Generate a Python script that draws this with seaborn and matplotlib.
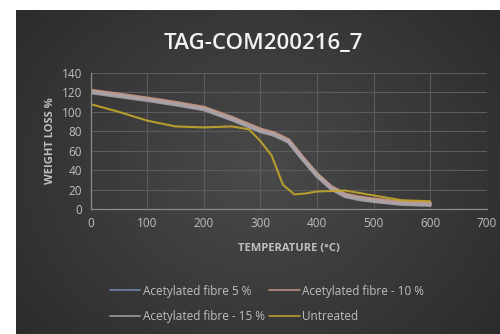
import numpy as np
import pandas as pd
import matplotlib
matplotlib.use("Agg")
import matplotlib.pyplot as plt
import seaborn as sns

# ---- data ----
temp_acet = [0, 50, 100, 150, 200, 250, 300, 325, 350, 375, 400, 425, 450, 475, 500, 550, 600]
acet_5 = [121, 117, 113, 108.5, 103.5, 93, 81, 77, 70, 52, 35, 22, 14, 11, 9, 6, 5]
acet_10 = [122, 118, 114, 109.5, 104.5, 94, 82, 78, 71, 53, 36, 23, 15, 12, 10, 7, 6]
acet_15 = [120, 116, 112, 107.5, 102.5, 92, 80, 76, 69, 51, 34, 21, 13, 10, 8, 5, 4]
temp_untr = [0, 50, 100, 150, 200, 250, 280, 300, 320, 340, 360, 380, 400, 450, 500, 550, 600]
untreated = [108, 100, 91, 85, 84, 85, 82, 70, 55, 25, 15, 16, 18, 19, 14, 9, 8]

series_names = ["Acetylated fibre 5 %", "Acetylated fibre - 10 %",
                "Acetylated fibre - 15 %", "Untreated"]
colors = ["#6f8fb0", "#c89a86", "#a9a3aa", "#c4a62c"]
xticks = [0, 100, 200, 300, 400, 500, 600, 700]
yticks = [0, 20, 40, 60, 80, 100, 120, 140]

frames = []
for name, xs, ys in zip(series_names,
                        [temp_acet, temp_acet, temp_acet, temp_untr],
                        [acet_5, acet_10, acet_15, untreated]):
    frames.append(pd.DataFrame({"Temperature": xs, "Weight": ys, "Series": name}))
df = pd.concat(frames, ignore_index=True)

sns.set_style("dark")
plt.rcParams["font.family"] = ["Open Sans", "DejaVu Sans"]

fig = plt.figure(figsize=(5, 3.34), dpi=100, facecolor="white")

# dark gradient background panel
bg = fig.add_axes([16 / 500, 0, 484 / 500, 1 - 10 / 334])
yy, xx = np.mgrid[-1:1:200j, -1:1:300j]
r = np.sqrt((xx * 1.0) ** 2 + (yy * 0.8) ** 2)
img = 0.29 - 0.13 * np.clip(r, 0, 1.4) / 1.4
bg.imshow(np.dstack([img, img, img]), aspect="auto", extent=[0, 1, 0, 1])
bg.set_axis_off()

ax = fig.add_axes([90.5 / 500, 1 - 209 / 334, (486.7 - 90.5) / 500, (209 - 73) / 334])
ax.set_facecolor("none")

palette = dict(zip(series_names, colors))
widths = {series_names[0]: 2.6, series_names[1]: 2.6, series_names[2]: 2.6, series_names[3]: 1.5}
for name in series_names:
    sub = df[df["Series"] == name]
    sns.lineplot(data=sub, x="Temperature", y="Weight", ax=ax, color=palette[name],
                 lw=widths[name], label=name, sort=False, alpha=0.9)

ax.set_xlim(0, 700)
ax.set_ylim(0, 140)
ax.set_xticks(xticks)
ax.set_yticks(yticks)
ax.grid(True, color="#5c5c5c", lw=0.8)
for s in ["top", "right"]:
    ax.spines[s].set_visible(False)
for s in ["left", "bottom"]:
    ax.spines[s].set_visible(True)
    ax.spines[s].set_color("#8a8a8a")
    ax.spines[s].set_linewidth(0.9)
ax.tick_params(colors="#bfbfbf", labelsize=8.5, length=0, pad=6)

ax.set_xlabel("TEMPERATURE (°C)", color="#bfbfbf", fontsize=8, fontweight="bold",
              labelpad=9)
ax.set_ylabel("WEIGHT LOSS %", color="#bfbfbf", fontsize=8, fontweight="bold",
              labelpad=4)

fig.text(263 / 500, 1 - 43 / 334, "TAG-COM200216_7", color="#f2f2f2", fontsize=16,
         fontweight="semibold", ha="center", va="center")

handles, labels = ax.get_legend_handles_labels()
order = [0, 2, 1, 3]
leg = ax.legend([handles[i] for i in order], [labels[i] for i in order],
                loc="center", bbox_to_anchor=(267 / 500, 1 - 304 / 334),
                bbox_transform=fig.transFigure, ncol=2, frameon=False, fontsize=8.5,
                labelcolor="#bfbfbf", handlelength=2.6, handletextpad=0.2,
                columnspacing=0.4, labelspacing=1.1)
for h in leg.legend_handles:
    h.set_linewidth(1.2)

fig.savefig("out.png", dpi=100, facecolor="white")
